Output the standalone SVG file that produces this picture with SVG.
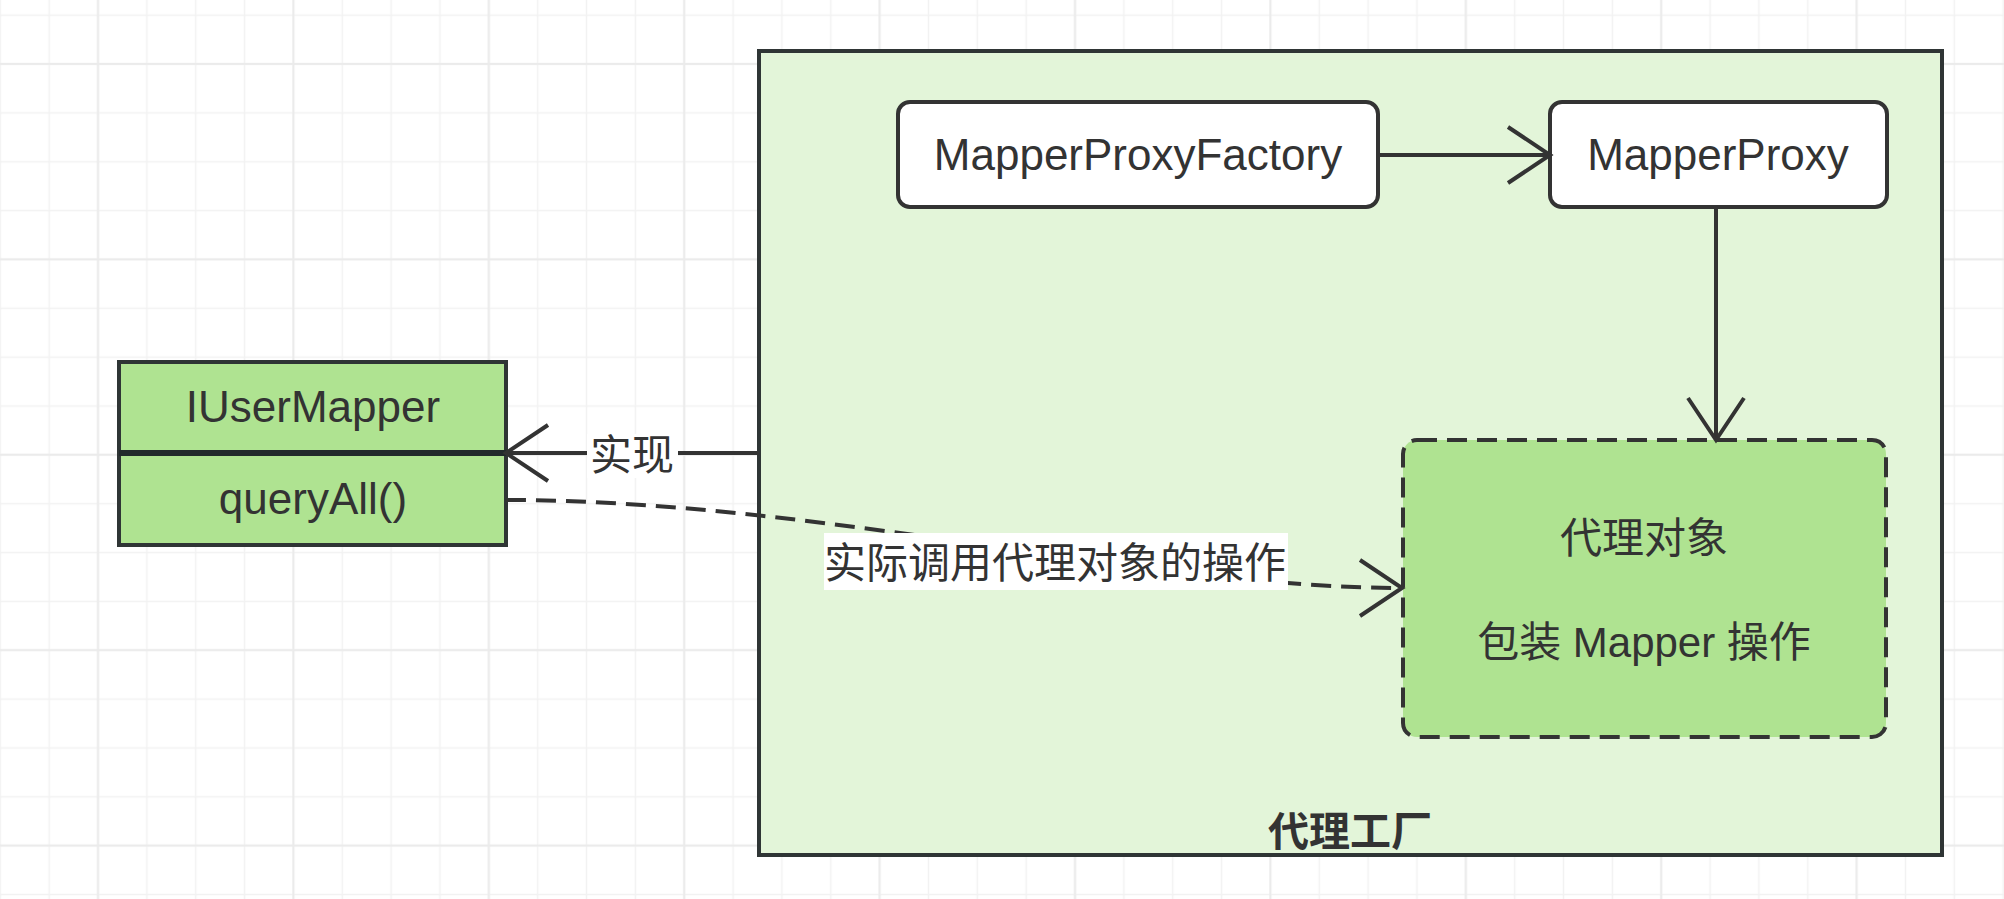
<svg xmlns="http://www.w3.org/2000/svg" width="2004" height="899" viewBox="0 0 2004 899">
  <style>
    .t { font-family: "Liberation Sans", "Noto Sans CJK SC", sans-serif; fill: #333333; text-anchor: middle; }
    .lat { font-size: 44px; }
    .cjk { font-size: 42px; }
    .ln { fill: none; stroke: #333333; stroke-width: 4; }
    .dash { stroke-dasharray: 20 10; }
  </style>
  <defs>
    <pattern id="gMinor" patternUnits="userSpaceOnUse" x="-24.1" y="-9.2" width="48.85" height="48.85">
      <rect x="23.7" y="0" width="1.5" height="48.85" fill="#f2f2f2"/>
      <rect x="0" y="23.7" width="48.85" height="1.5" fill="#f2f2f2"/>
    </pattern>
    <pattern id="gMajor" patternUnits="userSpaceOnUse" x="0" y="-33.7" width="195.4" height="195.4">
      <rect x="97" y="0" width="2" height="195.4" fill="#ebebeb"/>
      <rect x="0" y="96.6" width="195.4" height="2" fill="#ebebeb"/>
    </pattern>
    <marker id="open" markerUnits="userSpaceOnUse" viewBox="-50 -35 60 70" markerWidth="60" markerHeight="70" refX="0" refY="0" orient="auto" overflow="visible">
      <path d="M-42,-28 L0,0 L-42,28" fill="none" stroke="#333333" stroke-width="4" stroke-dasharray="none" stroke-linejoin="miter"/>
    </marker>
  </defs>

  <rect x="0" y="0" width="2004" height="899" fill="#ffffff"/>
  <rect x="0" y="0" width="2004" height="899" fill="url(#gMinor)"/>
  <rect x="0" y="0" width="2004" height="899" fill="url(#gMajor)"/>

  <g id="factory">
    <rect x="759" y="51" width="1183" height="804" fill="#e3f5d9" stroke="#2f3535" stroke-width="4"/>
    <text class="t" x="1350" y="846" font-size="41" font-weight="bold">代理工厂</text>
  </g>

  <g id="iusermapper">
    <rect x="119" y="362" width="387" height="183" fill="#afe391" stroke="#2f3535" stroke-width="4"/>
    <line x1="119" y1="453" x2="506" y2="453" stroke="#222a2c" stroke-width="6"/>
    <text class="t lat" x="313" y="422">IUserMapper</text>
    <text class="t lat" x="313" y="514">queryAll()</text>
  </g>

  <g id="mapperProxyFactory">
    <rect x="898" y="102" width="480" height="105" rx="12" fill="#ffffff" stroke="#333333" stroke-width="4"/>
    <text class="t lat" x="1138" y="170">MapperProxyFactory</text>
  </g>

  <g id="mapperProxy">
    <rect x="1550" y="102" width="337" height="105" rx="12" fill="#ffffff" stroke="#333333" stroke-width="4"/>
    <text class="t lat" x="1718" y="170">MapperProxy</text>
  </g>

  <g id="proxyObject">
    <rect x="1403" y="440" width="483" height="297" rx="14" fill="#afe391" stroke="#333333" stroke-width="4" stroke-dasharray="20 10"/>
    <text class="t cjk" x="1644" y="553">代理对象</text>
    <text class="t cjk" x="1644" y="657">包装 Mapper 操作</text>
  </g>

  <g id="connectors">
    <path class="ln" d="M1378,155 L1550,155" marker-end="url(#open)"/>
    <path class="ln" d="M1716,207 L1716,440" marker-end="url(#open)"/>
    <path class="ln" d="M759,453 L506,453" marker-end="url(#open)"/>
    <rect x="587" y="434" width="91" height="44" fill="#ffffff"/>
    <text class="t cjk" x="632" y="470">实现</text>
    <path class="ln dash" d="M506,500 C820,500 1150,588 1402,588" marker-end="url(#open)"/>
    <rect x="824" y="533" width="464" height="57" fill="#ffffff"/>
    <text class="t cjk" x="1055" y="578">实际调用代理对象的操作</text>
  </g>
</svg>
